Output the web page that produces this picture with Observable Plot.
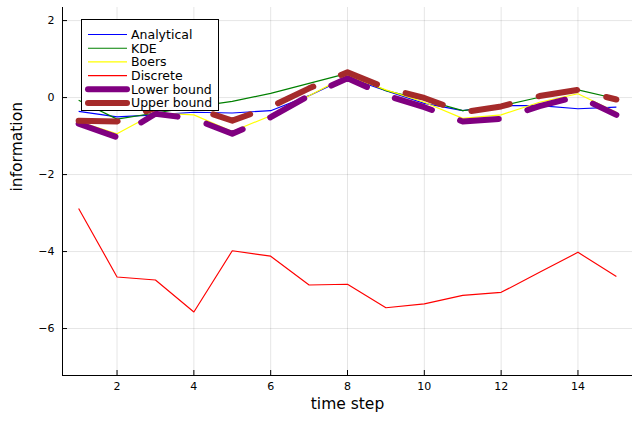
<!DOCTYPE html>
<html>
<head>
<meta charset="utf-8">
<script src="https://cdn.jsdelivr.net/npm/d3@7"></script>
<script src="https://cdn.jsdelivr.net/npm/@observablehq/plot@0.6"></script>
<style>
  html, body { margin: 0; padding: 0; background: #fff; overflow: hidden; }
  #wrap { position: relative; width: 632px; height: 422px; }
  #legend { position: absolute; left: 81px; top: 19px; width: 136px; height: 90px;
            background: #fff; border: 1px solid #000; box-sizing: content-box; }
</style>
</head>
<body>
<div id="wrap"></div>
<script>
// ---- data ----
const timeSteps = [1, 2, 3, 4, 5, 6, 7, 8, 9, 10, 11, 12, 13, 14, 15];
const analytical = [-0.36, -0.5, -0.45, -0.38, -0.4, -0.34, 0.05, 0.52, 0.18, -0.15, -0.34, -0.21, -0.21, -0.29, -0.25];
const kde        = [-0.07, -0.56, -0.4, -0.24, -0.1, 0.11, 0.37, 0.63, 0.18, -0.06, -0.34, -0.22, 0.01, 0.2, -0.03];
const boers      = [-0.62, -0.94, -0.4, -0.45, -0.88, -0.47, 0.05, 0.57, 0.2, -0.12, -0.54, -0.45, -0.12, 0.1, -0.38];
const discrete   = [-2.88, -4.66, -4.74, -5.57, -3.98, -4.12, -4.87, -4.85, -5.46, -5.36, -5.14, -5.06, -4.54, -4.02, -4.65];
const lowerBound = [-0.68, -1.03, -0.42, -0.55, -0.94, -0.51, 0.05, 0.5, 0.06, -0.25, -0.62, -0.55, -0.22, 0.03, -0.45];
const upperBound = [-0.6, -0.62, -0.27, -0.27, -0.6, -0.24, 0.24, 0.66, 0.25, -0.01, -0.38, -0.23, 0.04, 0.2, -0.05];

const seriesNames = ["Analytical", "KDE", "Boers", "Discrete", "Lower bound", "Upper bound"];
const seriesValues = [analytical, kde, boers, discrete, lowerBound, upperBound];
const seriesColors = ["#0000ff", "#008000", "#ffff00", "#ff0000", "#800080", "#a52a2a"];
const seriesThick = [false, false, false, false, true, true];

const xTicks = [2, 4, 6, 8, 10, 12, 14];
const yTicks = [2, 0, -2, -4, -6];
const xDomain = [0.58, 15.42];
const yDomain = [-7.22, 2.34];

// ---- table ----
const rows = timeSteps.map((t, i) => {
  const r = {t};
  seriesNames.forEach((n, k) => r[n] = seriesValues[k][i]);
  return r;
});

const lineMarks = seriesNames.map((n, k) => Plot.line(rows, {
  x: "t", y: n, stroke: seriesColors[k],
  strokeWidth: seriesThick[k] ? 6 : 1.15,
  strokeDasharray: seriesThick[k] ? "39,30" : null,
  strokeLinecap: seriesThick[k] ? "round" : "butt",
  strokeLinejoin: "round"
}));

const chart = Plot.plot({
  width: 632, height: 422,
  marginLeft: 62, marginRight: 0, marginTop: 7, marginBottom: 47,
  style: {fontFamily: "DejaVu Sans", fontSize: "11px", background: "#fff", color: "#000"},
  x: {domain: xDomain},
  y: {domain: yDomain},
  marks: [
    Plot.gridX(xTicks, {stroke: "#000", strokeOpacity: 0.1, strokeWidth: 1}),
    Plot.gridY(yTicks, {stroke: "#000", strokeOpacity: 0.1, strokeWidth: 1}),
    Plot.axisX(xTicks, {tickSize: 0, tickPadding: 7, label: null, fontSize: 11}),
    Plot.axisY(yTicks, {tickSize: 0, tickPadding: 8, label: null, fontSize: 11}),
    Plot.tickX(xTicks, {x: d => d, insetTop: 363, stroke: "#000"}),
    Plot.tickY(yTicks, {y: d => d, insetRight: 565, stroke: "#000"}),
    Plot.ruleX([xDomain[0]], {stroke: "#000"}),
    Plot.ruleY([yDomain[0]], {stroke: "#000"}),
    ...lineMarks,
    Plot.text(["time step"], {frameAnchor: "bottom", dy: 33, fontSize: 15.5}),
    Plot.text(["information"], {frameAnchor: "left", dx: -45, rotate: -90, fontSize: 15.5})
  ]
});

const wrap = document.getElementById("wrap");
wrap.appendChild(chart);

// ---- legend overlay ----
const leg = d3.select(wrap).append("div").attr("id", "legend");
const lsvg = leg.append("svg").attr("width", 136).attr("height", 90)
  .style("display", "block")
  .style("font-family", "DejaVu Sans").style("font-size", "12.5px");
seriesNames.forEach((n, k) => {
  const cy = 14.5 + k * 13.7;
  lsvg.append("line").attr("x1", 6).attr("x2", 45).attr("y1", cy).attr("y2", cy)
    .attr("stroke", seriesColors[k])
    .attr("stroke-width", seriesThick[k] ? 6 : 1.15)
    .attr("stroke-linecap", seriesThick[k] ? "round" : "butt");
  lsvg.append("text").attr("x", 49).attr("y", cy).attr("dy", "0.35em")
    .attr("fill", "#000").text(n);
});
</script>
</body>
</html>
